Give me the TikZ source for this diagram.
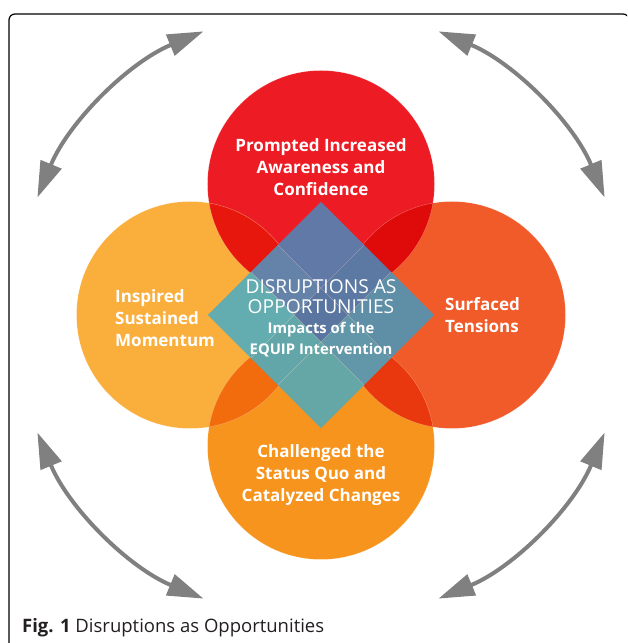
\documentclass[tikz,border=0pt]{standalone}
\usepackage{fontspec}
\setsansfont{Open Sans}
\usetikzlibrary{arrows.meta}

\definecolor{promptred}{HTML}{ED1C24}
\definecolor{inspireorange}{HTML}{FAAF3D}
\definecolor{surfaceorange}{HTML}{F15A29}
\definecolor{challengeorange}{HTML}{F7941E}
\definecolor{lensTL}{HTML}{E8170D}
\definecolor{lensTR}{HTML}{DE0B0A}
\definecolor{lensBL}{HTML}{F26B0D}
\definecolor{lensBR}{HTML}{E9380D}
\definecolor{cellT}{HTML}{6179A6}
\definecolor{cellL}{HTML}{63ACAF}
\definecolor{cellR}{HTML}{5F8EA7}
\definecolor{cellB}{HTML}{65A7A6}
\definecolor{cellTL}{HTML}{6583A9}
\definecolor{cellTR}{HTML}{5C79A3}
\definecolor{cellBL}{HTML}{62A6AA}
\definecolor{cellBR}{HTML}{6197A8}
\definecolor{cellC}{HTML}{5A76A0}
\definecolor{arrowgray}{HTML}{808080}
\definecolor{captiontext}{HTML}{231F20}

\begin{document}
\begin{tikzpicture}[x=1pt,y=1pt,
  circlabel/.style={text=white,font=\sffamily\bfseries\fontsize{17}{22}\selectfont,align=center},
  cyclearrow/.style={draw=arrowgray,line width=4pt,
    {Triangle[length=36pt,width=22pt]}-{Triangle[length=36pt,width=22pt]}},
  gridline/.style={draw=white,draw opacity=.35,line width=.5pt},
  rimline/.style={draw=white,draw opacity=.3,line width=.4pt}]
  \useasboundingbox (0,0) rectangle (627,643);
  \clip (0,0) rectangle (627,643);
  \draw[line width=1.2pt,rounded corners=6pt] (9,-8) rectangle (629,629);

  \coordinate (ctr) at (321,328);

  % the four circles
  \fill[promptred] (321,459) circle (113.5);
  \fill[inspireorange] (190,328) circle (113.5);
  \fill[surfaceorange] (452,328) circle (113.5);
  \fill[challengeorange] (321,197) circle (113.5);

  \begin{scope}
    \clip (321,459) circle (113.5);
    \fill[lensTL] (190,328) circle (113.5);
    \fill[lensTR] (452,328) circle (113.5);
  \end{scope}
  \begin{scope}
    \clip (321,197) circle (113.5);
    \fill[lensBL] (190,328) circle (113.5);
    \fill[lensBR] (452,328) circle (113.5);
  \end{scope}
  \draw[rimline] (321,459) circle (113.5) (190,328) circle (113.5)
    (452,328) circle (113.5) (321,197) circle (113.5);

  % centre diamond
  \begin{scope}[shift={(ctr)},rotate=45]
    \fill[cellT] (19,19) rectangle (80,80);
    \fill[cellL] (-80,19) rectangle (-19,80);
    \fill[cellR] (19,-80) rectangle (80,-19);
    \fill[cellB] (-80,-80) rectangle (-19,-19);
    \fill[cellTL] (-19,19) rectangle (19,80);
    \fill[cellTR] (19,-19) rectangle (80,19);
    \fill[cellBL] (-80,-19) rectangle (-19,19);
    \fill[cellBR] (-19,-80) rectangle (19,-19);
    \fill[cellC] (-19,-19) rectangle (19,19);
    \draw[gridline] (-19,-80) -- (-19,80) (19,-80) -- (19,80)
      (-80,-19) -- (80,-19) (-80,19) -- (80,19);
  \end{scope}

  % arrows round the cycle
  \draw[cyclearrow,shift={(ctr)}] (112.5:307) arc[start angle=112.5,end angle=157.5,radius=307];
  \draw[cyclearrow,shift={(ctr)}] (22.5:307) arc[start angle=22.5,end angle=67.5,radius=307];
  \draw[cyclearrow,shift={(ctr)}] (202.5:307) arc[start angle=202.5,end angle=247.5,radius=307];
  \draw[cyclearrow,shift={(ctr)}] (292.5:307) arc[start angle=292.5,end angle=337.5,radius=307];

  \node[circlabel] (prompted) at (321,476) {Prompted Increased\\Awareness and\\Confidence};
  \node[circlabel,align=left,anchor=west,inner sep=0pt] (inspired) at (115,325) {Inspired\\Sustained\\Momentum};
  \node[circlabel,align=left,anchor=west,inner sep=0pt] (surfaced) at (445,327.5) {Surfaced\\Tensions};
  \node[circlabel] (challenged) at (321,168) {Challenged the\\Status Quo and\\Catalyzed Changes};

  \node[text=white,font=\sffamily\fontsize{19.2}{20}\selectfont,align=center] (disrupt) at (321,346) {DISRUPTIONS AS\\OPPORTUNITIES};
  \node[text=white,font=\sffamily\bfseries\fontsize{14.8}{21}\selectfont,align=center] (impacts) at (321,303.5) {Impacts of the\\EQUIP Intervention};

  \node[anchor=west,inner sep=0pt,text=captiontext,font=\sffamily\fontsize{18.5}{20}\selectfont] (caption) at (22,15) {\textbf{Fig. 1} Disruptions as Opportunities};
\end{tikzpicture}
\end{document}
